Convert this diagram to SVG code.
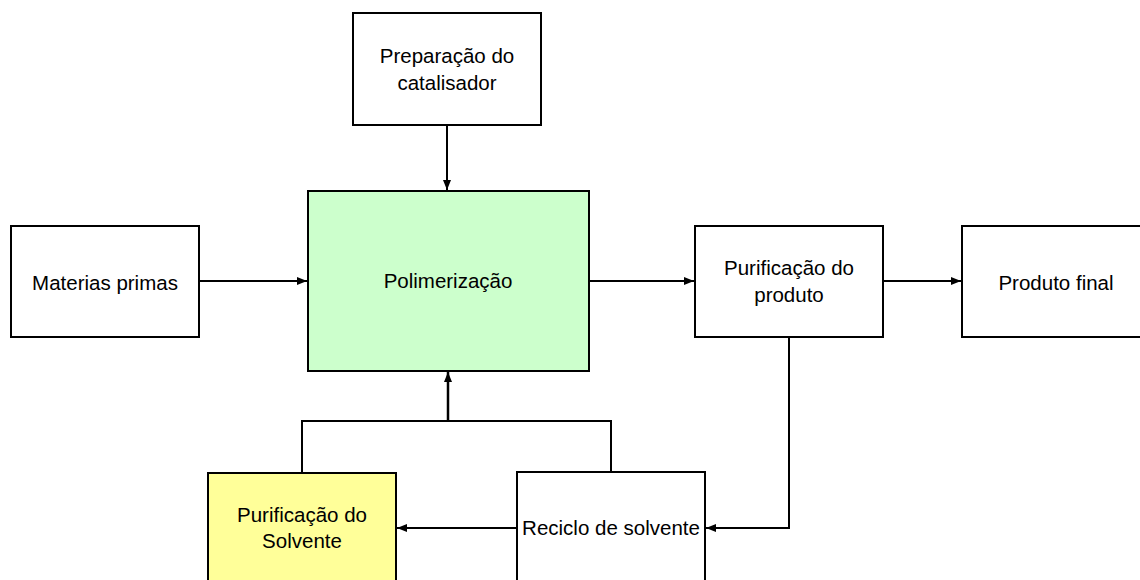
<svg xmlns="http://www.w3.org/2000/svg" width="1140" height="580" viewBox="0 0 1140 580">
  <style>
    .box { fill: #ffffff; stroke: #000000; stroke-width: 2; }
    .green { fill: #ccffcc; }
    .yellow { fill: #ffff99; }
    .label { font-family: "Liberation Sans", Arial, sans-serif; font-size: 20.5px; fill: #000000; text-anchor: middle; }
    .conn { fill: none; stroke: #000000; stroke-width: 2; }
  </style>
  <defs>
    <marker id="arrow" markerUnits="userSpaceOnUse" markerWidth="10" markerHeight="10" viewBox="0 0 10 10" refX="10" refY="5" orient="auto">
      <path d="M0,1 L10,5 L0,9 Z" fill="#000000"/>
    </marker>
  </defs>
  <rect x="0" y="0" width="1140" height="580" fill="#ffffff"/>

  <g id="connectors">
    <line class="conn" x1="447" y1="125" x2="447" y2="190" marker-end="url(#arrow)"/>
    <line class="conn" x1="199" y1="281" x2="307" y2="281" marker-end="url(#arrow)"/>
    <line class="conn" x1="589" y1="281" x2="694" y2="281" marker-end="url(#arrow)"/>
    <line class="conn" x1="883" y1="281" x2="961" y2="281" marker-end="url(#arrow)"/>
    <polyline class="conn" points="789,337 789,528 706,528" marker-end="url(#arrow)"/>
    <line class="conn" x1="517" y1="528" x2="397" y2="528" marker-end="url(#arrow)"/>
    <polyline class="conn" points="302,473 302,421 611,421 611,472"/>
    <line class="conn" style="stroke-width:2.5" x1="448" y1="421" x2="448" y2="372" marker-end="url(#arrow)"/>
  </g>

  <g id="node-catalisador">
    <rect class="box" x="353" y="13" width="188" height="112"/>
    <text class="label" x="447" y="63">Preparação do</text>
    <text class="label" x="447" y="90">catalisador</text>
  </g>

  <g id="node-materias">
    <rect class="box" x="11" y="226" width="188" height="111"/>
    <text class="label" x="105" y="290">Materias primas</text>
  </g>

  <g id="node-polimerizacao">
    <rect class="box green" x="308" y="191" width="281" height="180"/>
    <text class="label" x="448" y="288">Polimerização</text>
  </g>

  <g id="node-purificacao-produto">
    <rect class="box" x="695" y="226" width="188" height="111"/>
    <text class="label" x="789" y="275">Purificação do</text>
    <text class="label" x="789" y="302">produto</text>
  </g>

  <g id="node-produto-final">
    <rect class="box" x="962" y="226" width="190" height="111"/>
    <text class="label" x="1056" y="290">Produto final</text>
  </g>

  <g id="node-purificacao-solvente">
    <rect class="box yellow" x="208" y="473" width="188" height="120"/>
    <text class="label" x="302" y="522">Purificação do</text>
    <text class="label" x="302" y="548">Solvente</text>
  </g>

  <g id="node-reciclo">
    <rect class="box" x="517" y="472" width="188" height="121"/>
    <text class="label" x="611" y="535">Reciclo de solvente</text>
  </g>
</svg>
